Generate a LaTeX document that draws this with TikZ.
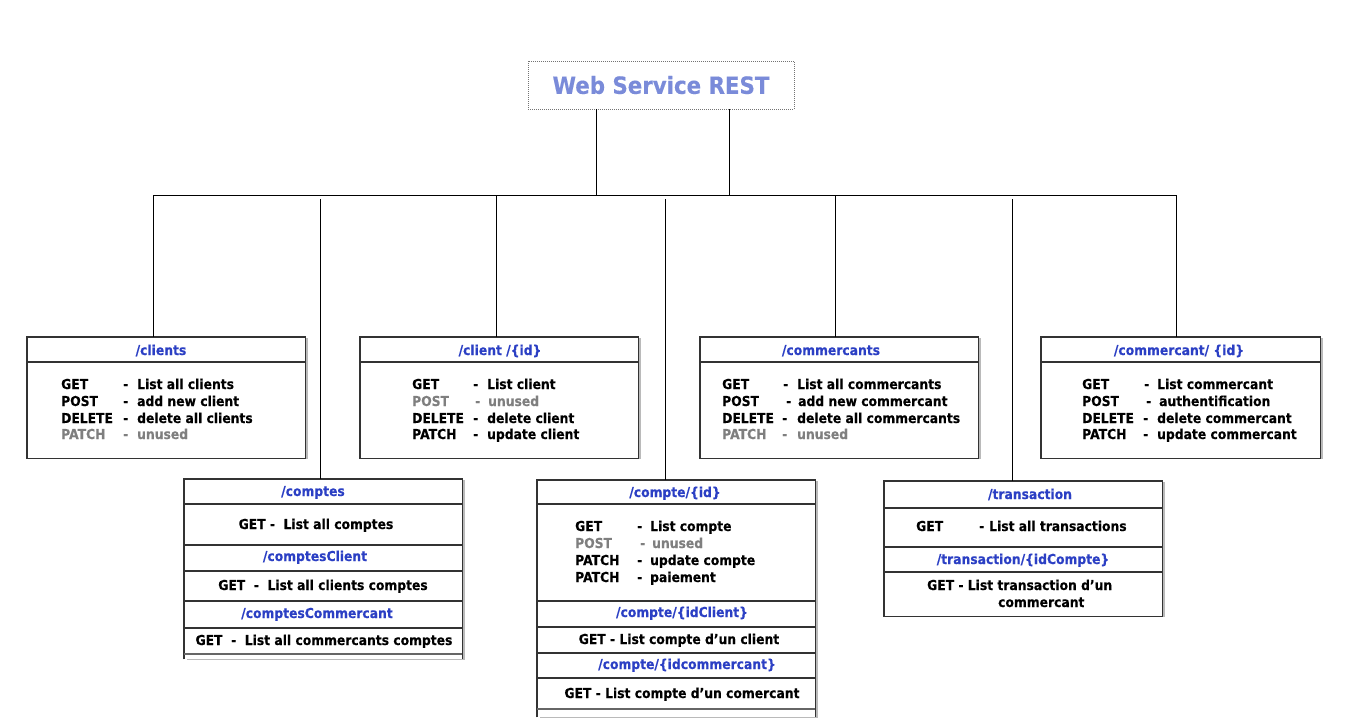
\documentclass[tikz,border=0pt]{standalone}
\usepackage{fontspec}
\newfontfamily\vf[FakeStretch=0.9, BoldFeatures={FakeBold=0.35}]{DejaVu Sans}
\usetikzlibrary{shadows}
\definecolor{hblue}{HTML}{2B3FC4}
\definecolor{tblue}{HTML}{7A8BD9}
\definecolor{gtxt}{HTML}{7F7F7F}
\definecolor{bline}{HTML}{333333}
\tikzset{
  frame/.style={draw=none, fill=white, inner sep=0pt, anchor=north west,
    drop shadow={shadow xshift=3pt, shadow yshift=-1pt, fill=black!45, opacity=.6}},
  edge/.style={draw=bline, line width=1.3pt},
  sepline/.style={draw=bline, line width=1.6pt},
  conn/.style={draw=black, line width=0.8pt},
  t/.style={font=\vf\bfseries\fontsize{13.7}{16}\selectfont, inner sep=0pt, anchor=base west},
  tc/.style={t, anchor=base},
  hd/.style={tc, text=hblue},
  gr/.style={text=gtxt},
}
\newcommand\rowm[8]{%
  \node[t,#8] (#1a) at (#2,#5) {#6};
  \node[t,#8] (#1b) at (#3,#5) {-};
  \node[t,#8] (#1c) at (#4,#5) {#7};}
\begin{document}
\begin{tikzpicture}[x=1pt,y=-1pt]
\useasboundingbox (0,0) rectangle (1366,728);
% title
\node[draw=black!55, line width=0.8pt, dash pattern=on 1pt off 1pt,
  minimum width=266pt, minimum height=48pt, inner sep=0pt,
  font=\vf\bfseries\fontsize{23.7}{28}\selectfont, text=tblue] (ws) at (661,85) {Web Service REST};
% bus
\coordinate (t1) at (596,195);
\coordinate (t2) at (729,195);
\coordinate (bl) at (153,195);
\coordinate (br) at (1176,195);
\draw[conn] (t1 |- ws.south) -- (t1);
\draw[conn] (t2 |- ws.south) -- (t2);
\draw[conn] (bl) -- (br);
% ---------- upper boxes
\foreach \n/\x/\w in {clients/27/278, clientid/360/278, commercants/700/278, commercantid/1041/279}{
  \node[frame, minimum width=\w pt, minimum height=121pt] (\n) at (\x,337) {};
  \draw[edge] (\n.south west) rectangle (\n.north east);
  \draw[sepline] ([yshift=-25pt]\n.north west) -- ([yshift=-25pt]\n.north east);
}
% ---------- lower groups
\node[frame, minimum width=278pt, minimum height=180pt] (comptes) at (184,479) {};
\node[frame, minimum width=278pt, minimum height=237pt] (compteid) at (537,480) {};
\node[frame, minimum width=278pt, minimum height=135pt] (transaction) at (884,481) {};
\draw[edge] (comptes.south west) -- (comptes.north west) -- (comptes.north east) -- (comptes.south east);
\draw[edge] (compteid.south west) -- (compteid.north west) -- (compteid.north east) -- (compteid.south east);
\draw[edge] (transaction.south west) rectangle (transaction.north east);
\foreach \y in {504,545,571,601,628}{\draw[sepline] (comptes.west |- 0,\y) -- (comptes.east |- 0,\y);}
\draw[edge, draw=black!60] (comptes.west |- 0,654) -- (comptes.east |- 0,654);
\foreach \y in {504,601,627,653,678}{\draw[sepline] (compteid.west |- 0,\y) -- (compteid.east |- 0,\y);}
\draw[edge, draw=black!60] (compteid.west |- 0,709) -- (compteid.east |- 0,709);
\foreach \y in {508,547,572}{\draw[sepline] (transaction.west |- 0,\y) -- (transaction.east |- 0,\y);}
% drops
\coordinate (d1) at (153,195);
\coordinate (d2) at (320,199);
\coordinate (d3) at (496,195);
\coordinate (d4) at (665,199);
\coordinate (d5) at (835,195);
\coordinate (d6) at (1012,199);
\coordinate (d7) at (1176,195);
\draw[conn] (d1) -- (d1 |- clients.north);
\draw[conn] (d2) -- (d2 |- comptes.north);
\draw[conn] (d3) -- (d3 |- clientid.north);
\draw[conn] (d4) -- (d4 |- compteid.north);
\draw[conn] (d5) -- (d5 |- commercants.north);
\draw[conn] (d6) -- (d6 |- transaction.north);
\draw[conn] (d7) -- (d7 |- commercantid.north);
% ---------- texts: clients
\node[hd] (h1) at (161,355) {/clients};
\rowm{c1}{61}{123}{137}{389}{GET}{List all clients}{}
\rowm{c2}{61}{123}{137}{406}{POST}{add new client}{}
\rowm{c3}{61}{123}{137}{423}{DELETE}{delete all clients}{}
\rowm{c4}{61}{123}{137}{439}{PATCH}{unused}{gr}
% client/{id}
\node[hd] (h2) at (500,355) {/client /\{id\}};
\rowm{i1}{412}{473}{487}{389}{GET}{List client}{}
\rowm{i2}{412}{475}{488}{406}{POST}{unused}{gr}
\rowm{i3}{412}{473}{487}{423}{DELETE}{delete client}{}
\rowm{i4}{412}{473}{487}{439}{PATCH}{update client}{}
% commercants
\node[hd] (h3) at (831,355) {/commercants};
\rowm{m1}{722}{783}{797}{389}{GET}{List all commercants}{}
\rowm{m2}{722}{786}{798}{406}{POST}{add new commercant}{}
\rowm{m3}{722}{782}{797}{423}{DELETE}{delete all commercants}{}
\rowm{m4}{722}{782}{797}{439}{PATCH}{unused}{gr}
% commercant/{id}
\node[hd] (h4) at (1179,355) {/commercant/ \{id\}};
\rowm{n1}{1082}{1144}{1157}{389}{GET}{List commercant}{}
\rowm{n2}{1082}{1146}{1159}{406}{POST}{authentification}{}
\rowm{n3}{1082}{1143}{1157}{423}{DELETE}{delete commercant}{}
\rowm{n4}{1082}{1143}{1157}{439}{PATCH}{update commercant}{}
% comptes group
\node[hd] (h5) at (313,496) {/comptes};
\node[tc] (p1) at (316,529) {GET -\ \ List all comptes};
\node[hd] (h6) at (315,561) {/comptesClient};
\node[tc] (p2) at (323,590) {GET\ \ -\ \ List all clients comptes};
\node[hd] (h7) at (317,618) {/comptesCommercant};
\node[tc] (p3) at (324,645) {GET\ \ -\ \ List all commercants comptes};
% compte/{id} group
\node[hd] (h8) at (675,497) {/compte/\{id\}};
\rowm{q1}{575}{637}{650}{531}{GET}{List compte}{}
\rowm{q2}{575}{640}{652}{548}{POST}{unused}{gr}
\rowm{q3}{575}{637}{650}{565}{PATCH}{update compte}{}
\rowm{q4}{575}{637}{650}{582}{PATCH}{paiement}{}
\node[hd] (h9) at (682,617) {/compte/\{idClient\}};
\node[tc] (q5) at (679,644) {GET - List compte d’un client};
\node[hd] (h10) at (687,669) {/compte/\{idcommercant\}};
\node[tc] (q6) at (682,698) {GET - List compte d’un comercant};
% transaction group
\node[hd] (h11) at (1030,499) {/transaction};
\rowm{r1}{916}{979}{989}{531}{GET}{List all transactions}{}
\node[hd] (h12) at (1023,564) {/transaction/\{idCompte\}};
\node[t] (r2) at (927,590) {GET - List transaction d’un};
\node[t] (r3) at (998,607) {commercant};
\end{tikzpicture}
\end{document}
